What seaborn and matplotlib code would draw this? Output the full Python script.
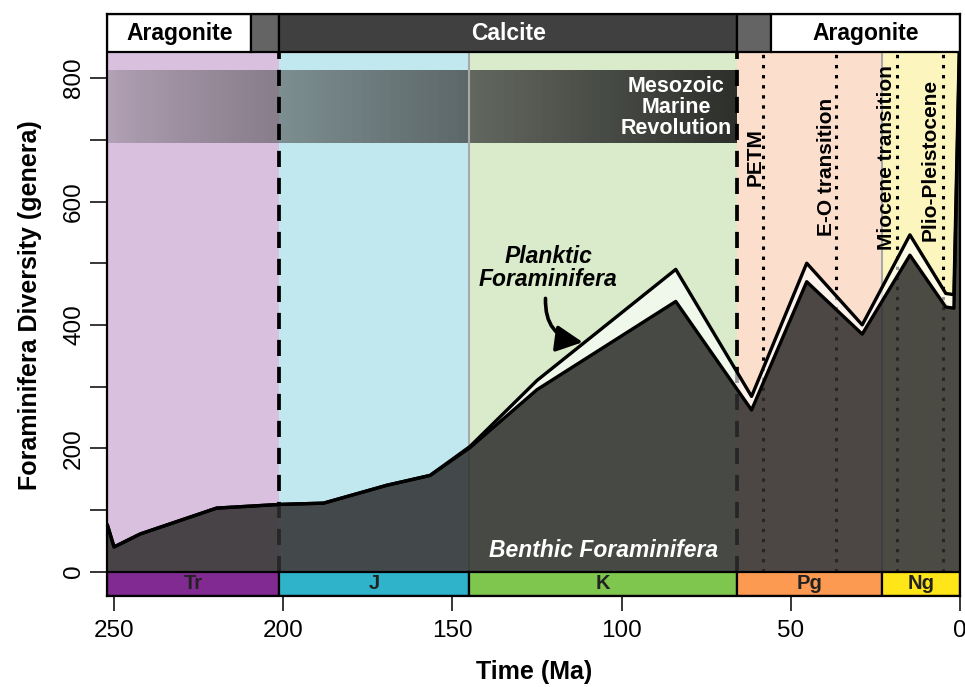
import numpy as np
import pandas as pd
import matplotlib
matplotlib.use("Agg")
import matplotlib.pyplot as plt
import seaborn as sns
from matplotlib.patches import Rectangle, FancyArrowPatch

# ---------------- data ----------------
age = [252, 250, 242.3, 219.7, 200.9, 188.1, 169.4, 156.6, 144.8, 125, 84,
       61.6, 45.3, 28.9, 14.8, 4.2, 1.8, 0]
benthic = [76, 40, 61, 103, 109, 111, 140, 156, 201, 295, 438,
           262, 470, 385, 513, 429, 427, 880]
total = [76, 40, 61, 103, 109, 111, 140, 156, 203, 310, 490,
         284, 500, 400, 546, 451, 449, 900]

periods = ["Tr", "J", "K", "Pg", "Ng"]
period_start = [252, 201.3, 145, 66, 23]
period_end = [201.3, 145, 66, 23, 0]
period_colors = ["#812B92", "#2EB3CA", "#7FC64E", "#FD9A52", "#FFE619"]
band_colors = ["#D9C0DE", "#C0E8EE", "#D9EBCB", "#FCDECD", "#FCF5BE"]

mineral_labels = ["Aragonite", "", "Calcite", "", "Aragonite"]
mineral_start = [252, 209.5, 201.2, 65.9, 55.9]
mineral_end = [209.5, 201.2, 65.9, 55.9, 0]
mineral_colors = ["white", "#646464", "#404040", "#646464", "white"]
mineral_text_colors = ["black", "white", "white", "white", "black"]

event_labels = ["PETM", "E-O transition", "Miocene transition", "Plio-Pleistocene"]
event_age = [58.1, 36.6, 18.7, 4.9]
event_label_x = [60.6, 39.6, 21.6, 8.9]
event_label_y = [672, 656, 672, 668]

extinction_age = [201.3, 66]
grey_age = [145, 23]

yticks_major = [0, 200, 400, 600, 800]
yticks_minor = [100, 300, 500, 700]
xticks = [250, 200, 150, 100, 50, 0]

# ---------------- styling ----------------
sns.set_theme(style="white")
plt.rcParams['font.family'] = ['Liberation Sans', 'DejaVu Sans']

fig = plt.figure(figsize=(9.65, 6.87), dpi=100)
ax = fig.add_axes([107.3 / 965, 1 - 596 / 687, 852.7 / 965, 582 / 687])

YMIN, YMAX = -39.5, 904
BAR_TOP = 842
ax.set_xlim(252, 0)
ax.set_ylim(YMIN, YMAX)

# background period bands
for s, e, c in zip(period_start, period_end, band_colors):
    ax.add_patch(Rectangle((e, 0), s - e, BAR_TOP, facecolor=c, edgecolor="none", zorder=0))

# Mesozoic Marine Revolution gradient band
n = 500
frac = np.linspace(0, 1, n)
grad = np.zeros((1, n, 4))
shade = 0.36 - 0.26 * frac
for k in range(3):
    grad[0, :, k] = shade
grad[0, :, 3] = 0.28 + 0.62 * frac ** 0.6
ax.imshow(grad, extent=(252, 66, 695, 813), aspect="auto", zorder=1, interpolation="bilinear")

# vertical lines (under the fills)
for a in grey_age:
    ax.plot([a, a], [0, BAR_TOP], color="#A8A8A8", lw=1.5, zorder=1.5)
for a in extinction_age:
    ax.plot([a, a], [0, BAR_TOP], color="black", lw=2.7, linestyle=(0, (4.3, 2.9)),
            dash_capstyle="butt", zorder=1.6)
for a in event_age:
    ax.plot([a, a], [0, BAR_TOP], color="black", lw=2.2, linestyle=(0, (1.1, 2.2)),
            dash_capstyle="butt", zorder=1.6)

# fills
ax.fill_between(age, 0, benthic, color="#2D2D2D", alpha=0.85, lw=0, zorder=2)
ax.fill_between(age, benthic, total, color="white", alpha=0.62, lw=0, zorder=2)

# outlines via seaborn
df = pd.DataFrame({"age": age, "benthic": benthic, "total": total})
sns.lineplot(data=df, x="age", y="total", color="black", lw=2.4, estimator=None,
             sort=False, ax=ax, zorder=3)
sns.lineplot(data=df, x="age", y="benthic", color="black", lw=2.4, estimator=None,
             sort=False, ax=ax, zorder=3)

# bottom period bar
for s, e, c, lab in zip(period_start, period_end, period_colors, periods):
    ax.add_patch(Rectangle((e, YMIN), s - e, -YMIN, facecolor=c, edgecolor="black",
                           lw=1.6, zorder=4))
    ax.text((s + e) / 2, YMIN / 2, lab, ha="center", va="center", fontsize=14.5,
            fontweight="bold", color="#222222", zorder=5)

# top mineralogy bar
for s, e, c, lab, tc in zip(mineral_start, mineral_end, mineral_colors, mineral_labels,
                            mineral_text_colors):
    ax.add_patch(Rectangle((e, BAR_TOP), s - e, YMAX - BAR_TOP, facecolor=c,
                           edgecolor="black", lw=1.6, zorder=4))
    if lab:
        ax.text((s + e) / 2, (BAR_TOP + YMAX) / 2, lab, ha="center", va="center",
                fontsize=16.5, fontweight="bold", color=tc, zorder=5)

# annotations
ax.text(83.9, 753, "Mesozoic\nMarine\nRevolution", ha="center", va="center",
        fontsize=15.5, fontweight="bold", color="white", linespacing=1.0, zorder=5)
for lab, x, y in zip(event_labels, event_label_x, event_label_y):
    ax.text(x, y, lab, rotation=90, ha="center", va="center", fontsize=15,
            fontweight="bold", color="black", zorder=5)

ax.text(121.7, 492, "Planktic\nForaminifera", ha="center", va="center", fontsize=16.5,
        fontweight="bold", fontstyle="italic", color="black", linespacing=1.0, zorder=5)
ax.text(105.2, 33.5, "Benthic Foraminifera", ha="center", va="center", fontsize=16.5,
        fontweight="bold", fontstyle="italic", color="white", zorder=5)

arrow = FancyArrowPatch((122.5, 443), (111.5, 372), connectionstyle="arc3,rad=0.45",
                        arrowstyle="-|>,head_length=0.9,head_width=0.45",
                        mutation_scale=18, lw=2.6, color="black", zorder=5,
                        shrinkA=0, shrinkB=0)
ax.add_patch(arrow)

# axes & ticks
for sp in ax.spines.values():
    sp.set_visible(True)
    sp.set_color("black")
    sp.set_linewidth(1.6)
    sp.set_zorder(6)

ax.set_yticks(yticks_major)
ax.set_yticks(yticks_minor, minor=True)
ax.set_yticklabels([str(v) for v in yticks_major], rotation=90, va="center")
ax.set_xticks(xticks)
ax.set_xticklabels([str(v) for v in xticks])
ax.tick_params(axis="y", which="both", direction="out", length=12, width=1.1,
               color="black", left=True, labelsize=17.5, pad=4)
ax.tick_params(axis="x", which="both", direction="out", length=10.5, width=1.1,
               color="black", bottom=True, labelsize=17.5, pad=7)
for lbl in ax.get_xticklabels() + ax.get_yticklabels():
    lbl.set_color("black")

ax.set_xlabel("Time (Ma)", fontsize=18, fontweight="bold", color="black", va="center")
ax.set_ylabel("Foraminifera Diversity (genera)", fontsize=18, fontweight="bold",
              color="black", va="center")
ax.xaxis.set_label_coords(0.5, -0.1306)
ax.yaxis.set_label_coords(-0.0907, 0.5)
ax.grid(False)

fig.savefig("out.png", dpi=100)
